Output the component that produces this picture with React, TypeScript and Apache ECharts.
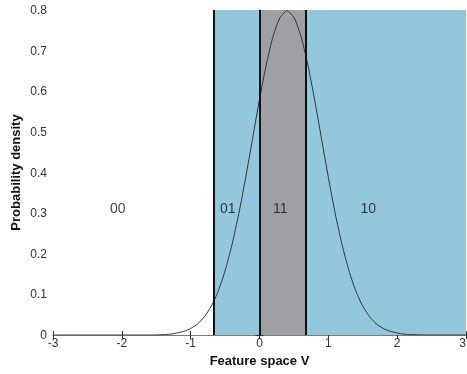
import React, { useEffect, useRef } from "react";
import * as echarts from "echarts";

const xValues = [-3, -2.5, -2, -1.7, -1.6, -1.5, -1.4, -1.3, -1.2, -1.1, -1.0, -0.9, -0.8, -0.7, -0.6, -0.5, -0.4, -0.3, -0.2, -0.1, 0, 0.1, 0.2, 0.3, 0.4, 0.5, 0.6, 0.7, 0.8, 0.9, 1.0, 1.1, 1.2, 1.3, 1.4, 1.5, 1.6, 1.7, 1.8, 1.9, 2.0, 2.1, 2.2, 2.4, 2.5, 3];
const density = [0, 0, 0, 0, 0, 0.0001, 0.001, 0.002, 0.005, 0.009, 0.016, 0.027, 0.045, 0.071, 0.108, 0.158, 0.222, 0.299, 0.388, 0.484, 0.58, 0.667, 0.737, 0.782, 0.798, 0.782, 0.737, 0.667, 0.58, 0.484, 0.388, 0.299, 0.222, 0.158, 0.108, 0.071, 0.045, 0.027, 0.016, 0.009, 0.005, 0.002, 0.001, 0, 0, 0];

const regionBounds = [-3, -0.67, 0, 0.67, 3];
const regionColors = ["rgba(0,0,0,0)", "#93c8dc", "#a09fa3", "#93c8dc"];
const regionLabels = ["00", "01", "11", "10"];
const regionLabelX = [-2.06, -0.46, 0.3, 1.58];
const regionLabelY = [0.312, 0.312, 0.312, 0.312];
const boundaryLines = [-0.67, 0, 0.67];

export default function App() {
  const ref = useRef<HTMLDivElement>(null);
  useEffect(() => {
    if (!ref.current) return;
    const chart = echarts.init(ref.current, null, { renderer: "svg" });
    const font = "Liberation Sans, Arial, sans-serif";
    const axisCommon = {
      axisLine: { show: true, lineStyle: { color: "#7a7a7a", width: 1 } },
      axisTick: { show: true, inside: true, length: 4, lineStyle: { color: "#333" } },
      splitLine: { show: false },
    };
    chart.setOption({
      animation: false,
      grid: { left: 53, right: 1, top: 10, bottom: 39, outerBoundsMode: "none", containLabel: false },
      xAxis: [
        {
          type: "value",
          min: -3,
          max: 3,
          interval: 1,
          position: "bottom",
          ...axisCommon,
          axisLabel: { color: "#333", fontSize: 12, fontFamily: font, margin: 2, alignMaxLabel: "right" },
          name: "Feature space V",
          nameLocation: "middle",
          nameGap: 17,
          nameTextStyle: { fontWeight: "bold", fontSize: 13, color: "#111", fontFamily: font },
        },
        {
          type: "value",
          min: -3,
          max: 3,
          interval: 1,
          position: "top",
          ...axisCommon,
          axisLabel: { show: false },
        },
      ],
      yAxis: [
        {
          type: "value",
          min: 0,
          max: 0.8,
          interval: 0.1,
          position: "left",
          ...axisCommon,
          axisLabel: { color: "#333", fontSize: 12, fontFamily: font, margin: 6, formatter: (v: number) => String(Math.round(v * 10) / 10) },
          name: "Probability density",
          nameLocation: "middle",
          nameGap: 31,
          nameMoveOverlap: false,
          nameTextStyle: { fontWeight: "bold", fontSize: 13, color: "#111", fontFamily: font },
        },
        {
          type: "value",
          min: 0,
          max: 0.8,
          interval: 0.1,
          position: "right",
          ...axisCommon,
          axisLabel: { show: false },
        },
      ],
      series: [
        {
          type: "line",
          data: [],
          z: 1,
          markArea: {
            silent: true,
            data: regionColors.map((c, i) => [
              { coord: [regionBounds[i], 0], itemStyle: { color: c } },
              { coord: [regionBounds[i + 1], 0.8] },
            ]),
          },
        },
        {
          type: "line",
          data: xValues.map((x, i) => [x, density[i]]),
          showSymbol: false,
          smooth: 0.2,
          lineStyle: { color: "#333", width: 1 },
          z: 3,
        },
        {
          type: "line",
          data: [],
          z: 4,
          markLine: {
            silent: true,
            symbol: "none",
            label: { show: false },
            lineStyle: { color: "#111", width: 2, type: "solid" },
            data: boundaryLines.map((x) => ({ xAxis: x })),
          },
        },
        {
          type: "scatter",
          symbolSize: 0,
          z: 5,
          itemStyle: { color: "#111" },
          data: regionLabels.map((t, i) => ({
            value: [regionLabelX[i], regionLabelY[i]],
            name: t,
            label: { color: "#111" },
          })),
          label: {
            show: true,
            position: "inside",
            formatter: (p: any) => p.name,
            color: "#111",
            fontSize: 14,
            fontFamily: font,
          },
        },
      ],
    });
    return () => chart.dispose();
  }, []);
  return <div ref={ref} style={{ position: "fixed", left: 0, top: 0, width: 467, height: 374 }} />;
}
